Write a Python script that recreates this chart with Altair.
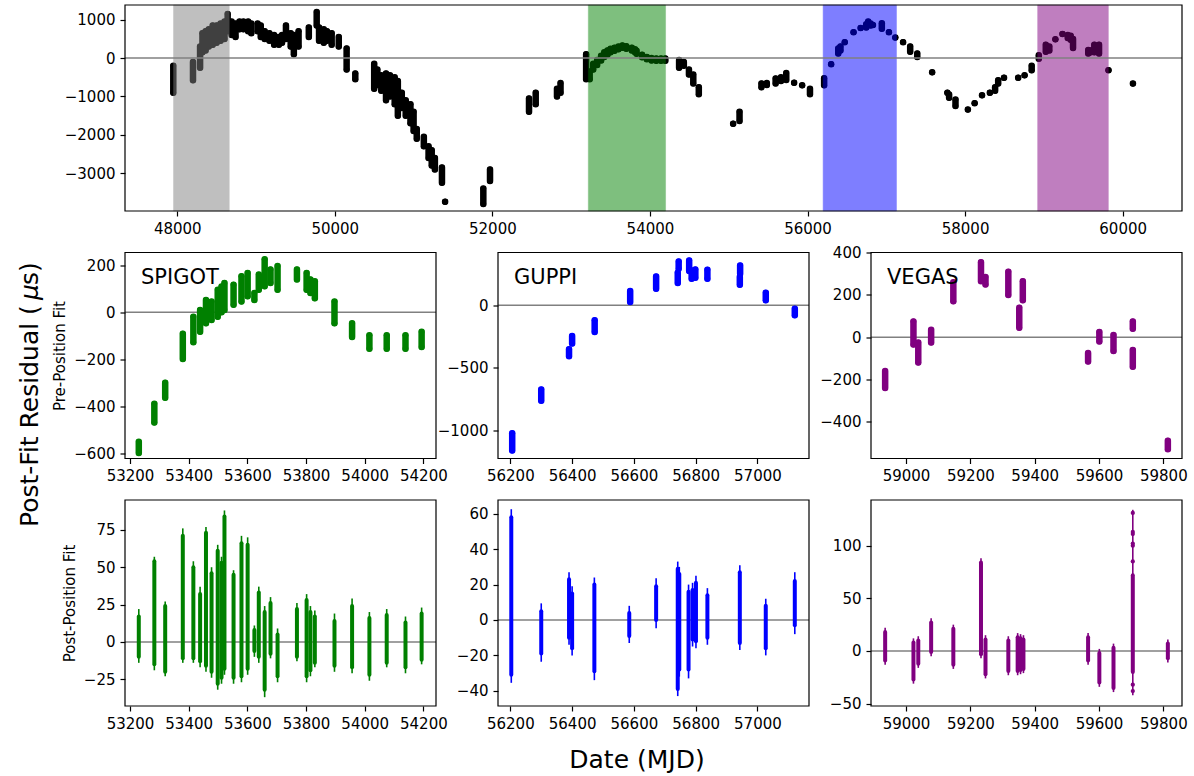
import altair as alt
import pandas as pd

FONT = "DejaVu Sans"

# ---------------- overview: every epoch, residual range in microseconds ----------------
top_mjd = [47950, 48200, 48290, 48320, 48360, 48400, 48450, 48500, 48550, 48600, 48640,
           48690, 48740, 48790, 48840, 48900, 48940, 49020, 49060, 49110, 49170, 49230,
           49290, 49330, 49380, 49440, 49480, 49540, 49670, 49770, 49800, 49860, 49900,
           49960, 50050, 50150, 50260, 50500, 50540, 50590, 50650, 50700, 50760, 50800,
           50850, 50900, 50960, 51000, 51040, 51130, 51190, 51230, 51270, 51360, 51400,
           51885, 51970, 52465, 52550, 52820, 52865, 53190,
           53235, 53280, 53330, 53380, 53420, 53460, 53500, 53550, 53600, 53650, 53700,
           53770, 53810, 53830, 53900, 53960, 54020, 54080, 54140, 54195,
           54370, 54430, 54495, 54550, 54620, 55056, 55137, 55415, 55483, 55595, 55663,
           55730, 55830, 55932, 56031,
           56211, 56300, 56390, 56418, 56472, 56584, 56674, 56745, 56770, 56800, 56830,
           56943, 57033, 57114,
           57213, 57303, 57393, 57582, 57775, 57797, 57878, 58035, 58121, 58215, 58314,
           58381, 58420, 58494, 58674, 58755, 58845, 58935,
           59024, 59069, 59146, 59236, 59303, 59340, 59370, 59563, 59595, 59640, 59700,
           59820, 60130]
top_lo = [-900, -580, -250, 150, 200, 300, 350, 400, 450, 500, 700,
          600, 550, 750, 750, 700, 650, 700, 550, 500, 450, 350,
          350, 400, 500, 300, 100, 300, 550, 850, 450, 400, 450,
          350, 300, -300, -550, -800, -700, -850, -1100, -1000, -1200, -1500,
          -1300, -1500, -1700, -1900, -2100, -2300, -2600, -2800, -2900, -3250, -3740,
          -3800, -3200, -1400, -1200, -1000, -900, -550,
          -550, -300, -180, -60, 30, 90, 150, 190, 230, 270, 240,
          200, 150, 110, 20, -30, -60, -70, -70, -70,
          -250, -200, -430, -660, -940, -1710, -1640, -760, -700, -660, -600,
          -570, -640, -710, -940,
          -710, -160, 120, 200, 415, 675, 785, 800, 860, 850, 860,
          765, 675, 535,
          415, 165, 28, -370, -900, -1035, -1250, -1340, -1175, -970, -900,
          -850, -665, -510, -510, -450, -320, -20,
          165, 200, 490, 630, 520, 480, 260, 120, 150, 150, 120,
          -315, -665]
top_hi = [-200, -100, 300, 650, 700, 750, 850, 850, 900, 950, 1150,
          950, 900, 950, 950, 950, 900, 900, 850, 700, 650, 600,
          550, 600, 850, 650, 600, 700, 800, 1200, 800, 750, 700,
          650, 550, 250, -400, -150, -300, -450, -400, -450, -500, -600,
          -900, -1100, -1200, -1400, -1850, -2050, -2300, -2400, -2600, -2850, -3740,
          -3400, -2900, -1050, -900, -800, -650, 100,
          -350, -150, -50, 60, 150, 200, 240, 270, 300, 330, 310,
          270, 230, 190, 90, 30, 0, -10, -10, -10,
          -50, -100, -300, -430, -760, -1710, -1400, -660, -650, -530, -500,
          -390, -640, -710, -800,
          -525, -160, 250, 305, 415, 675, 785, 880, 950, 900, 860,
          905, 675, 535,
          415, 305, 120, -370, -900, -950, -1080, -1340, -1175, -970, -900,
          -760, -575, -510, -510, -450, -200, 75,
          350, 300, 490, 630, 600, 580, 500, 210, 200, 350, 350,
          -315, -665]

# shaded spans of the three backends (plus the early data)
band_start = [47953, 53218, 56198, 58921]
band_end = [48660, 54198, 57129, 59818]
band_color = ["#808080", "#008000", "#0000ff", "#800080"]

# ---------------- SPIGOT ----------------
spigot_mjd = [53230, 53283, 53320, 53380, 53416, 53439, 53459, 53478, 53499, 53512,
              53522, 53553, 53580, 53601, 53624, 53639, 53659, 53679, 53703, 53769,
              53802, 53815, 53830, 53897, 53957, 54016, 54075, 54139, 54194]
spigot_pre_lo = [-600, -470, -364, -199, -127, -83, -47, -33, -19, 0,
                 10, 32, 46, 68, 53, 96, 111, 125, 96, 140,
                 96, 82, 60, -47, -105, -155, -155, -155, -148]
spigot_pre_hi = [-552, -390, -300, -91, -19, 10, 53, 46, 96, 110,
                 125, 118, 154, 168, 82, 161, 226, 183, 197, 183,
                 168, 140, 132, 46, -47, -98, -98, -98, -83]
spigot_bar_lo = [-14, -19, -23, -14, -14, -17, -20, -24, -32, -28,
                 -22, -28, -27, -22, -10, -14, -37, -11, -27, -13,
                 -27, -23, -17, -20, -21, -26, -17, -21, -15]
spigot_bar_hi = [22, 57, 27, 76, 54, 37, 77, 50, 65, 57,
                 88, 48, 71, 70, 11, 37, 24, 30, 9, 26,
                 32, 24, 21, 19, 29, 20, 22, 17, 23]
spigot_core_lo = [-10, -15, -20, -11, -11, -13, -16, -20, -28, -24,
                  -18, -24, -23, -18, -6, -10, -32, -8, -23, -10,
                  -23, -19, -14, -16, -17, -22, -14, -17, -12]
spigot_core_hi = [17, 54, 24, 71, 50, 32, 73, 46, 61, 53,
                  84, 45, 66, 65, 8, 33, 20, 26, 5, 22,
                  28, 20, 17, 14, 24, 16, 18, 13, 19]

# ---------------- GUPPI ----------------
guppi_pre_mjd = [56206, 56300, 56390, 56400, 56473, 56588, 56672, 56742, 56745,
                 56779, 56787, 56799, 56838, 56943, 56944, 57027, 57121]
guppi_pre_lo = [-1162, -763, -407, -306, -213, 27, 133, 178, 293,
                274, 213, 221, 213, 165, 253, 40, -80]
guppi_pre_hi = [-1024, -673, -351, -245, -120, 114, 231, 261, 351,
                359, 279, 287, 285, 226, 319, 101, -27]
guppi_post_mjd = [56203, 56300, 56390, 56400, 56472, 56585, 56672, 56742, 56747,
                  56777, 56790, 56801, 56838, 56943, 57027, 57121]
guppi_bar_lo = [-35.5, -23.6, -14, -20, -34, -13, -4.7, -43, -32,
                -33, -15, -16, -14, -17, -20, -8]
guppi_bar_hi = [62.6, 9.4, 27, 19, 24, 8, 23.6, 33, 30,
                20, 21, 25, 18, 31, 12, 27]
guppi_core_lo = [-31, -19, -10, -16, -29, -9, 0, -39, -28,
                 -28, -11, -12, -10, -13, -16, -3]
guppi_core_hi = [58, 5, 23, 15, 20, 4, 19, 29, 26,
                 16, 17, 21, 14, 27, 8, 22]

# ---------------- VEGAS ----------------
vegas_pre_mjd = [58935, 59023, 59038, 59078, 59147, 59233, 59247, 59318, 59352,
                 59363, 59566, 59601, 59645, 59705, 59705, 59814]
vegas_pre_lo = [-240, -35, -120, -25, 170, 265, 250, 200, 45,
                175, -115, -20, -65, 40, -140, -530]
vegas_pre_hi = [-160, 75, -25, 35, 260, 355, 285, 310, 140,
                265, -75, 25, 10, 75, -60, -490]
vegas_post_mjd = [58935, 59023, 59038, 59078, 59147, 59233, 59247, 59318, 59347,
                  59356, 59365, 59566, 59601, 59645, 59705, 59814]
vegas_bar_lo = [-13, -31, -16, -5, -17, -7, -26, -23, -23,
                -22, -21, -13, -34, -39, -42, -11]
vegas_bar_hi = [22, 12, 14, 31, 25, 88, 15, 14, 17,
                16, 15, 17, 2, 7, 134, 11]
vegas_core_lo = [-9, -27, -12, -1, -13, -3, -22, -19, -19,
                 -18, -17, -9, -30, -35, -20, -7]
vegas_core_hi = [18, 8, 10, 27, 21, 84, 11, 10, 13,
                 12, 11, 13, -2, 3, 72, 7]
vegas_extra_mjd = [59705, 59705, 59705, 59705, 59705, 59705, 59705, 59705]
vegas_extra_val = [85, 100, 102, 111, 113, 131, -32, -38]

# ---------------- layout (pixels) ----------------
LEFT, TOP0 = 125, 5
TOP_W, TOP_H = 1057, 206
P_W, P_H = 311, 206
GAP_X = 62
GAP_Y = 41.5
COL_X = [0, P_W + GAP_X, 2 * (P_W + GAP_X)]
ROW2_Y = TOP0 + TOP_H + GAP_Y
ROW3_Y = ROW2_Y + P_H + GAP_Y

ONE = pd.DataFrame({"a": [0]})


def x_enc(xdom, ox, width, xvals):
    return alt.X("mjd:Q",
                 scale=alt.Scale(domain=xdom, range=[ox, ox + width], nice=False, zero=False),
                 axis=alt.Axis(values=xvals, format="d", title=None, orient="bottom"))


def y_axis(yvals, ox, title=None):
    if title is None:
        return alt.Axis(values=yvals, format="d", title=None, orient="left", offset=-ox)
    return alt.Axis(values=yvals, format="d", title=title, orient="left", offset=-ox)


def y_enc(field, ydom, yvals, ox, title=None):
    return alt.Y(field, scale=alt.Scale(domain=ydom, nice=False, zero=False),
                 axis=y_axis(yvals, ox, title))


def zero_line(ydom, yvals, ox, width, title=None):
    return alt.Chart(pd.DataFrame({"lo": [0]})).mark_rule(
        color="#808080", strokeWidth=1.5
    ).encode(
        x=alt.value(ox), x2=alt.value(ox + width),
        y=y_enc("lo:Q", ydom, yvals, ox, title),
    )


def frame(ox, width, height):
    return alt.Chart(ONE).mark_rect(
        fillOpacity=0, stroke="black", strokeWidth=1.2
    ).encode(x=alt.value(ox), x2=alt.value(ox + width), y=alt.value(0), y2=alt.value(height))


def span_layers(mjd, lo, hi, color, width, x, ydom, yvals, ox, title=None):
    df = pd.DataFrame({"mjd": mjd, "lo": lo, "hi": hi})
    y = y_enc("lo:Q", ydom, yvals, ox, title)
    y_hi = y_enc("hi:Q", ydom, yvals, ox, title)
    area = 3.1416 * (width / 2.0) ** 2
    rule = alt.Chart(df).mark_rule(color=color, strokeWidth=width, strokeCap="round").encode(
        x=x, y=y, y2="hi:Q")
    dots_lo = alt.Chart(df).mark_circle(color=color, size=area, opacity=1).encode(x=x, y=y)
    dots_hi = alt.Chart(df).mark_circle(color=color, size=area, opacity=1).encode(x=x, y=y_hi)
    return [rule, dots_lo, dots_hi]


def label(text, x, y, size, angle=0, align="left", baseline="alphabetic", style="normal"):
    return alt.Chart(pd.DataFrame({"t": [text]})).mark_text(
        font=FONT, fontSize=size, angle=angle, align=align, baseline=baseline,
        fontStyle=style, color="black"
    ).encode(text="t:N", x=alt.value(x), y=alt.value(y))


# ---------------- overview panel ----------------
top_x = [47337, 60753]
top_y = [-3984, 1383]
top_xv = [48000, 50000, 52000, 54000, 56000, 58000, 60000]
top_yv = [-3000, -2000, -1000, 0, 1000]
tx = x_enc(top_x, 0, TOP_W, top_xv)

bands = pd.DataFrame({"mjd": band_start, "end": band_end, "c": band_color})
band_layer = alt.Chart(bands).mark_rect(opacity=0.5, strokeWidth=1, strokeOpacity=0.5).encode(
    x=tx, x2="end:Q",
    y=alt.value(0), y2=alt.value(TOP_H),
    color=alt.Color("c:N", scale=None), stroke=alt.Stroke("c:N", scale=None),
)
anchor_tl = alt.Chart(ONE).mark_rect(opacity=0).encode(
    x=alt.value(-LEFT), x2=alt.value(-LEFT + 1), y=alt.value(-TOP0), y2=alt.value(-TOP0 + 1))

top = alt.layer(
    *span_layers(top_mjd, top_lo, top_hi, "black", 6.5, tx, top_y, top_yv, 0),
    band_layer,
    zero_line(top_y, top_yv, 0, TOP_W),
    frame(0, TOP_W, TOP_H),
    anchor_tl,
).properties(width=TOP_W, height=TOP_H)

# ---------------- pre-position fit row ----------------
sp_x = [53183, 54243]
sp_xv = [53200, 53400, 53600, 53800, 54000, 54200]
gu_x = [56160, 57167]
gu_xv = [56200, 56400, 56600, 56800, 57000]
ve_x = [58891, 59858]
ve_xv = [59000, 59200, 59400, 59600, 59800]

sp_pre_y = [-623, 255]
gu_pre_y = [-1226, 422]
ve_pre_y = [-574, 401]
sp_pre_yv = [-600, -400, -200, 0, 200]
gu_pre_yv = [-1000, -500, 0]
ve_pre_yv = [-400, -200, 0, 200, 400]

big_size = 25
# "Post-Fit Residual (µs)" runs upward; piece starts in absolute pixels
ylab_x = 30
ylab_start = 527
ylab_mu = ylab_start - 227
ylab_s = ylab_mu - 15

x_sp = x_enc(sp_x, COL_X[0], P_W, sp_xv)
x_gu = x_enc(gu_x, COL_X[1], P_W, gu_xv)
x_ve = x_enc(ve_x, COL_X[2], P_W, ve_xv)

pre_sp = alt.layer(
    zero_line(sp_pre_y, sp_pre_yv, COL_X[0], P_W, "Pre-Position Fit"),
    *span_layers(spigot_mjd, spigot_pre_lo, spigot_pre_hi, "#008000", 6.5,
                 x_sp, sp_pre_y, sp_pre_yv, COL_X[0], "Pre-Position Fit"),
)
pre_gu = alt.layer(
    zero_line(gu_pre_y, gu_pre_yv, COL_X[1], P_W),
    *span_layers(guppi_pre_mjd, guppi_pre_lo, guppi_pre_hi, "#0000ff", 6.5,
                 x_gu, gu_pre_y, gu_pre_yv, COL_X[1]),
)
pre_ve = alt.layer(
    zero_line(ve_pre_y, ve_pre_yv, COL_X[2], P_W),
    *span_layers(vegas_pre_mjd, vegas_pre_lo, vegas_pre_hi, "#800080", 6.5,
                 x_ve, ve_pre_y, ve_pre_yv, COL_X[2]),
)

row_pre = alt.layer(
    pre_sp, pre_gu, pre_ve,
    frame(COL_X[0], P_W, P_H), frame(COL_X[1], P_W, P_H), frame(COL_X[2], P_W, P_H),
    label("SPIGOT", COL_X[0] + 16, 31, 21),
    label("GUPPI", COL_X[1] + 16, 31, 21),
    label("VEGAS", COL_X[2] + 16, 31, 21),
    label("Post-Fit Residual (", ylab_x - LEFT, ylab_start - ROW2_Y, big_size,
          angle=270, baseline="middle"),
    label("\u03bc", ylab_x - LEFT, ylab_mu - ROW2_Y, big_size,
          angle=270, baseline="middle", style="italic"),
    label("s)", ylab_x - LEFT, ylab_s - ROW2_Y, big_size, angle=270, baseline="middle"),
).resolve_scale(x="independent", y="independent").properties(width=TOP_W, height=P_H)


# ---------------- post-position fit row ----------------
def post_layers(mjd, blo, bhi, clo, chi, color, x, ydom, yvals, ox, title=None):
    y = y_enc("lo:Q", ydom, yvals, ox, title)
    bars = alt.Chart(pd.DataFrame({"mjd": mjd, "lo": blo, "hi": bhi})).mark_rule(
        color=color, strokeWidth=1.6).encode(x=x, y=y, y2="hi:Q")
    core = alt.Chart(pd.DataFrame({"mjd": mjd, "lo": clo, "hi": chi})).mark_rule(
        color=color, strokeWidth=4, strokeCap="round").encode(x=x, y=y, y2="hi:Q")
    return [zero_line(ydom, yvals, ox, P_W, title), bars, core]


sp_post_y = [-42.9, 95]
gu_post_y = [-48.6, 67.8]
ve_post_y = [-52.2, 143.3]
sp_post_yv = [-25, 0, 25, 50, 75]
gu_post_yv = [-40, -20, 0, 20, 40, 60]
ve_post_yv = [-50, 0, 50, 100]

post_sp = alt.layer(*post_layers(spigot_mjd, spigot_bar_lo, spigot_bar_hi, spigot_core_lo,
                                 spigot_core_hi, "#008000", x_sp, sp_post_y, sp_post_yv,
                                 COL_X[0], "Post-Position Fit"))
post_gu = alt.layer(*post_layers(guppi_post_mjd, guppi_bar_lo, guppi_bar_hi, guppi_core_lo,
                                 guppi_core_hi, "#0000ff", x_gu, gu_post_y, gu_post_yv,
                                 COL_X[1]))
vegas_extra = alt.Chart(pd.DataFrame({"mjd": vegas_extra_mjd, "lo": vegas_extra_val})).mark_circle(
    color="#800080", size=18, opacity=1).encode(
    x=x_ve, y=y_enc("lo:Q", ve_post_y, ve_post_yv, COL_X[2]))
post_ve = alt.layer(*post_layers(vegas_post_mjd, vegas_bar_lo, vegas_bar_hi, vegas_core_lo,
                                 vegas_core_hi, "#800080", x_ve, ve_post_y, ve_post_yv,
                                 COL_X[2]), vegas_extra)

anchor_br = alt.Chart(ONE).mark_rect(opacity=0).encode(
    x=alt.value(1193 - LEFT), x2=alt.value(1194 - LEFT),
    y=alt.value(775 - ROW3_Y), y2=alt.value(776 - ROW3_Y))

row_post = alt.layer(
    post_sp, post_gu, post_ve,
    frame(COL_X[0], P_W, P_H), frame(COL_X[1], P_W, P_H), frame(COL_X[2], P_W, P_H),
    label("Date (MJD)", 637 - LEFT, 768 - ROW3_Y, big_size, align="center"),
    anchor_br,
).resolve_scale(x="independent", y="independent").properties(width=TOP_W, height=P_H)

chart = alt.vconcat(top, row_pre, row_post, spacing=GAP_Y, bounds="flush").properties(
    padding=0, background="white"
).configure_view(
    stroke=None
).configure_axis(
    labelFont=FONT, labelFontSize=15, labelColor="black",
    tickColor="black", tickSize=5, tickWidth=1.2, labelPadding=5,
    domain=False, grid=False, labelFlush=False, labelOverlap=False,
    titleFont=FONT, titleFontSize=15, titleFontWeight="normal", titleColor="black",
    titlePadding=6,
)

chart.save("out.html", embed_options={"renderer": "svg", "actions": False})
